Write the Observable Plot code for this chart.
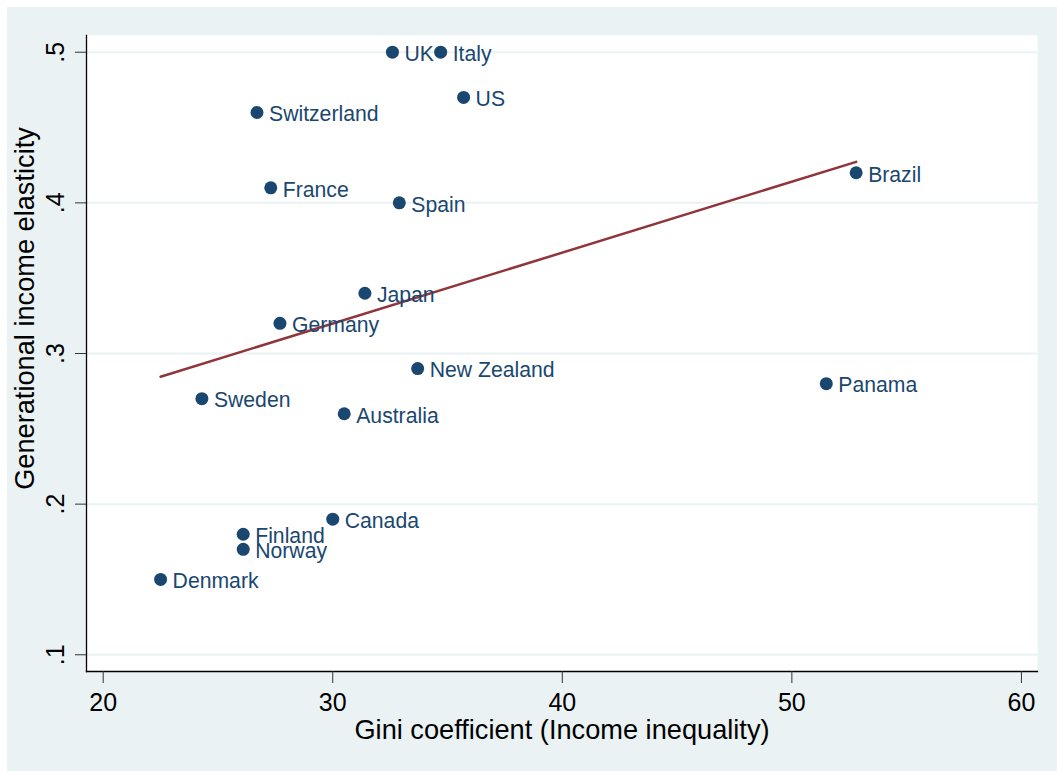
<!DOCTYPE html>
<html><head><meta charset="utf-8">
<script src="https://cdn.jsdelivr.net/npm/d3@7"></script>
<script src="https://cdn.jsdelivr.net/npm/@observablehq/plot@0.6"></script>
<style>
html,body{margin:0;padding:0;background:#fff;}
#chart{position:absolute;left:7px;top:7px;}
</style></head><body><div id="chart"></div>
<script>
const countries = ["UK","Italy","US","Switzerland","France","Spain","Brazil","Japan","Germany","New Zealand","Panama","Sweden","Australia","Canada","Finland","Norway","Denmark"];
const gini = [32.6,34.7,35.7,26.7,27.3,32.9,52.8,31.4,27.7,33.7,51.5,24.3,30.5,30.0,26.1,26.1,22.5];
const elasticity = [0.50,0.50,0.47,0.46,0.41,0.40,0.42,0.34,0.32,0.29,0.28,0.27,0.26,0.19,0.18,0.17,0.15];
const xTicks = [20,30,40,50,60];
const yTicks = [0.1,0.2,0.3,0.4,0.5];
const yTickLabels = [".1",".2",".3",".4",".5"];
const xTitle = "Gini coefficient (Income inequality)";
const yTitle = "Generational income elasticity";

const data = countries.map((c,i)=>({country:c, gini:gini[i], ige:elasticity[i]}));
const font = "'Liberation Sans', Arimo, Arial, sans-serif";
const navy = "#1A476F", maroon = "#90353B", bg = "#EAF2F3";

const chart = Plot.plot({
  width:1050, height:764, marginLeft:79, marginTop:28, marginRight:20, marginBottom:100,
  style:{background:bg, fontFamily:font, color:"#000"},
  x:{domain:[19.273,60.70]},
  y:{domain:[0.0889,0.5111]},
  marks:[
    Plot.frame({fill:"white", stroke:null}),
    Plot.gridY(yTicks,{stroke:bg, strokeOpacity:1, strokeWidth:2}),
    Plot.frame({anchor:"left", stroke:"#000", strokeWidth:1.3}),
    Plot.frame({anchor:"bottom", stroke:"#000", strokeWidth:1.3}),
    Plot.axisX(xTicks,{tickSize:12, tickPadding:10, fontSize:25, stroke:"#333", fill:"#000", label:null}),
    Plot.axisY(yTicks,{tickSize:11, stroke:"#333", tickFormat:()=>"", label:null}),
    Plot.axisY(yTicks,{tickSize:0, tickPadding:23, fontSize:25, fill:"#000", rotate:-90, textAnchor:"middle", lineAnchor:"bottom", tickFormat:d=>yTickLabels[yTicks.indexOf(d)], label:null}),
    Plot.text([xTitle],{text:d=>d, frameAnchor:"bottom", dy:67, lineAnchor:"bottom", fontSize:27.2, fill:"#000"}),
    Plot.text([yTitle],{text:d=>d, frameAnchor:"left", dx:-53, dy:-45, rotate:-90, textAnchor:"middle", lineAnchor:"bottom", fontSize:27.2, fill:"#000"}),
    Plot.linearRegressionY(data,{x:"gini", y:"ige", stroke:maroon, strokeWidth:2.5, ci:0}),
    Plot.dot(data,{x:"gini", y:"ige", r:6.5, fill:navy}),
    Plot.text(data,{x:"gini", y:"ige", text:"country", dx:12, dy:2, textAnchor:"start", fontSize:21.2, fill:navy})
  ]
});
document.getElementById("chart").appendChild(chart);
</script></body></html>
